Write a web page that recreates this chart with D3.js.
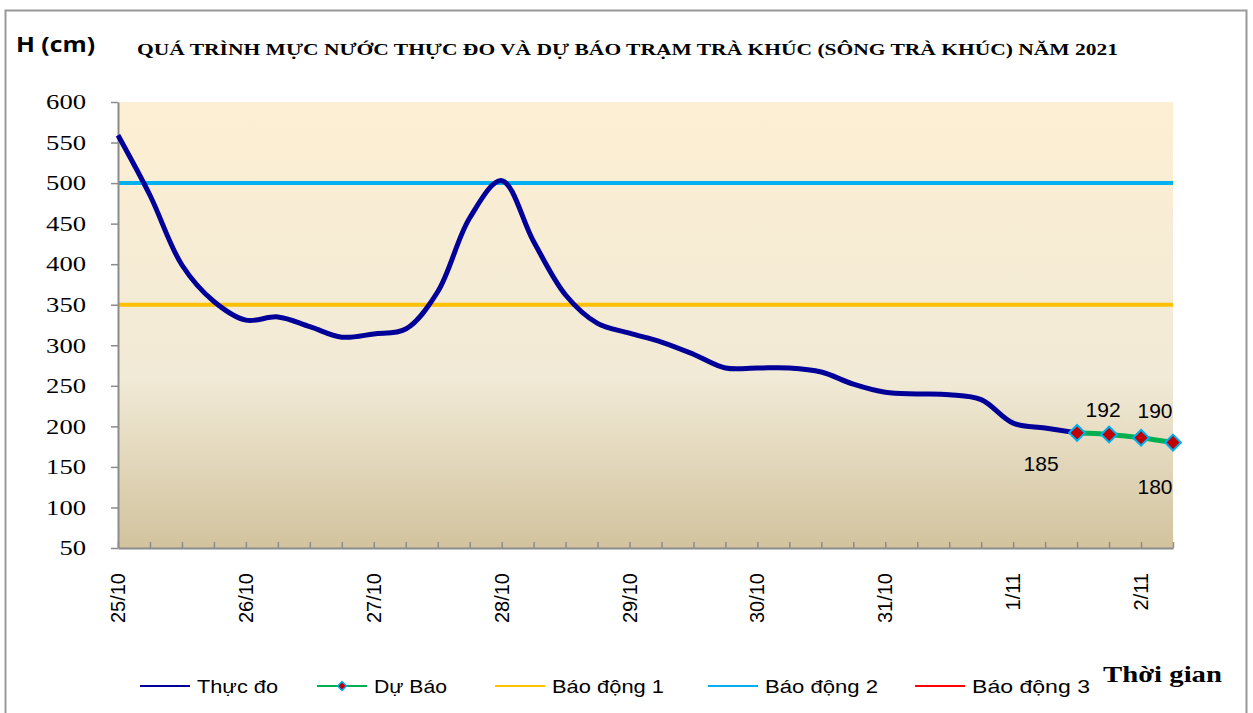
<!DOCTYPE html>
<html>
<head>
<meta charset="utf-8">
<script src="https://cdn.jsdelivr.net/npm/d3@7"></script>
<style>
  body { margin: 0; background: #fff; }
  svg { display: block; }
  .ylab { font-family: "Liberation Serif", "Times New Roman", serif; font-size: 21px; }
</style>
</head>
<body>
<div id="chart"></div>
<script>
// 6-hour steps from 25/10 00h to 2/11 06h
const dayLabels = ["25/10", "26/10", "27/10", "28/10", "29/10", "30/10", "31/10", "1/11", "2/11"];
const observed = [559, 485, 399, 354, 331, 335, 323, 310, 314, 320, 366, 457, 503,
  428, 362, 327, 315, 304, 289, 272, 272, 272, 267, 252, 242, 240, 239, 233, 204, 198, 192];
const forecastStart = 30;
const forecast = [192, 190, 186, 180];
// data labels as printed on the chart, one per forecast point
const forecastLabels = ["185", "192", "190", "180"];
const alarm1 = 350;
const alarm2 = 500;
const yTicks = [50, 100, 150, 200, 250, 300, 350, 400, 450, 500, 550, 600];
const legendNames = ["Thực đo", "Dự Báo", "Báo động 1", "Báo động 2", "Báo động 3"];

// label offsets (px) for forecast value labels
const labelOffsets = [[-36, 38], [-6, -17], [14, -20], [-18, 51]];

const width = 1253,
  height = 713;
const svg = d3
  .select("#chart")
  .append("svg")
  .attr("width", width)
  .attr("height", height);

// outer frame
svg
  .append("rect")
  .attr("x", 5.5)
  .attr("y", 10.5)
  .attr("width", 1241)
  .attr("height", 710)
  .attr("fill", "none")
  .attr("stroke", "#999")
  .attr("stroke-width", 2);

const plotLeft = 118,
  plotRight = 1173,
  plotTop = 102,
  plotBottom = 548;
const nSteps = 33;

const x = d3.scaleLinear().domain([0, nSteps]).range([plotLeft, plotRight]);
const y = d3.scaleLinear().domain([50, 600]).range([plotBottom, plotTop]);

const defs = svg.append("defs");
const grad = defs
  .append("linearGradient")
  .attr("id", "bg")
  .attr("x1", 0)
  .attr("y1", 0)
  .attr("x2", 0)
  .attr("y2", 1);
grad.append("stop").attr("offset", "0%").attr("stop-color", "#fdefd3");
grad.append("stop").attr("offset", "62%").attr("stop-color", "#f1ead6");
grad.append("stop").attr("offset", "100%").attr("stop-color", "#d2c39e");

svg
  .append("rect")
  .attr("x", plotLeft)
  .attr("y", plotTop)
  .attr("width", plotRight - plotLeft)
  .attr("height", plotBottom - plotTop)
  .attr("fill", "url(#bg)");

// alarm lines
svg
  .append("line")
  .attr("x1", plotLeft)
  .attr("x2", plotRight)
  .attr("y1", y(alarm1))
  .attr("y2", y(alarm1))
  .attr("stroke", "#ffc000")
  .attr("stroke-width", 4);
svg
  .append("line")
  .attr("x1", plotLeft)
  .attr("x2", plotRight)
  .attr("y1", y(alarm2))
  .attr("y2", y(alarm2))
  .attr("stroke", "#00b0f0")
  .attr("stroke-width", 4);

// axes
const yAxis = svg
  .append("g")
  .attr("transform", `translate(${plotLeft},0)`)
  .call(d3.axisLeft(y).tickValues(yTicks).tickSize(7).tickPadding(25).tickSizeOuter(0))
  .attr("font-family", null)
  .attr("font-size", null);
yAxis.select(".domain").attr("stroke", "#8c8c8c").attr("stroke-width", 2);
yAxis.selectAll(".tick line").attr("stroke", "#8c8c8c").attr("stroke-width", 1.5);
yAxis
  .selectAll("text")
  .attr("class", "ylab")
  .attr("fill", "#000")
  .attr("textLength", (d) => String(d).length * 13.3)
  .attr("lengthAdjust", "spacingAndGlyphs");

const xAxis = svg
  .append("g")
  .attr("transform", `translate(0,${plotBottom})`)
  .call(d3.axisBottom(x).tickValues(d3.range(0, nSteps + 1)).tickSize(-6).tickFormat("").tickSizeOuter(0));
xAxis.select(".domain").attr("stroke", "#8c8c8c").attr("stroke-width", 2);
xAxis.selectAll(".tick line").attr("stroke", "#8c8c8c").attr("stroke-width", 1.5);

svg
  .append("g")
  .selectAll("text")
  .data(dayLabels)
  .enter()
  .append("text")
  .attr("transform", (d, i) => `translate(${x(i * 4) + 7},573) rotate(-90)`)
  .attr("text-anchor", "end")
  .style("font-family", "'Liberation Sans', Arial, sans-serif")
  .style("font-size", "20px")
  .text((d) => d);

// observed line
const line = d3
  .line()
  .x((d) => x(d[0]))
  .y((d) => y(d[1]))
  .curve(d3.curveCatmullRom.alpha(0.5));

svg
  .append("path")
  .datum(observed.map((v, i) => [i, v]))
  .attr("d", line)
  .attr("fill", "none")
  .attr("stroke", "#000099")
  .attr("stroke-width", 5)
  .attr("stroke-linejoin", "round");

// forecast
const fData = forecast.map((v, i) => [forecastStart + i, v]);
svg
  .append("path")
  .datum(fData)
  .attr("d", line)
  .attr("fill", "none")
  .attr("stroke", "#00b050")
  .attr("stroke-width", 5);

const diamond = d3.symbol().type(d3.symbolDiamond2).size(160);
svg
  .append("g")
  .selectAll("path")
  .data(fData)
  .enter()
  .append("path")
  .attr("d", diamond)
  .attr("transform", (d) => `translate(${x(d[0])},${y(d[1])})`)
  .attr("fill", "#c00000")
  .attr("stroke", "#00b0f0")
  .attr("stroke-width", 2);

svg
  .append("g")
  .selectAll("text")
  .data(fData)
  .enter()
  .append("text")
  .attr("x", (d, i) => x(d[0]) + labelOffsets[i][0])
  .attr("y", (d, i) => y(d[1]) + labelOffsets[i][1])
  .attr("text-anchor", "middle")
  .style("font-family", "'Liberation Sans', Arial, sans-serif")
  .style("font-size", "21px")
  .text((d, i) => forecastLabels[i]);

// titles
svg
  .append("text")
  .attr("x", 16)
  .attr("y", 52)
  .style("font-family", "'Open Sans', 'Liberation Sans', sans-serif")
  .style("font-weight", "bold")
  .style("font-size", "22px")
  .attr("textLength", 79)
  .attr("lengthAdjust", "spacingAndGlyphs")
  .text("H (cm)");

svg
  .append("text")
  .attr("x", 137)
  .attr("y", 55)
  .style("font-family", "'Liberation Serif', 'Times New Roman', serif")
  .style("font-weight", "bold")
  .style("font-size", "16px")
  .attr("textLength", 981)
  .attr("lengthAdjust", "spacingAndGlyphs")
  .text("QUÁ TRÌNH MỰC NƯỚC THỰC ĐO VÀ DỰ BÁO TRẠM TRÀ KHÚC (SÔNG TRÀ KHÚC) NĂM 2021");

svg
  .append("text")
  .attr("x", 1103)
  .attr("y", 682)
  .style("font-family", "'Liberation Serif', 'Times New Roman', serif")
  .style("font-weight", "bold")
  .style("font-size", "23px")
  .attr("textLength", 119)
  .attr("lengthAdjust", "spacingAndGlyphs")
  .text("Thời gian");

// legend
const legendX = [140, 317, 495, 708, 915];
const legendTextW = [81, 73, 112, 113, 118];
const legendColors = ["#000099", "#00b050", "#ffc000", "#00b0f0", "#ff0000"];
const lg = svg
  .append("g")
  .selectAll("g")
  .data(legendNames)
  .enter()
  .append("g")
  .attr("transform", (d, i) => `translate(${legendX[i]},686)`);
lg.append("line")
  .attr("x1", 0)
  .attr("x2", 50)
  .attr("stroke", (d, i) => legendColors[i])
  .attr("stroke-width", 2);
lg.filter((d, i) => i === 1)
  .append("path")
  .attr("d", d3.symbol().type(d3.symbolDiamond2).size(50))
  .attr("transform", "translate(25,0)")
  .attr("fill", "#c00000")
  .attr("stroke", "#00b0f0")
  .attr("stroke-width", 1.5);
lg.append("text")
  .attr("x", 57)
  .attr("y", 7)
  .style("font-family", "'Liberation Sans Narrow', 'Liberation Sans', Arial, sans-serif")
  .style("font-size", "19px")
  .attr("textLength", (d, i) => legendTextW[i])
  .attr("lengthAdjust", "spacingAndGlyphs")
  .text((d) => d);
</script>
</body>
</html>
